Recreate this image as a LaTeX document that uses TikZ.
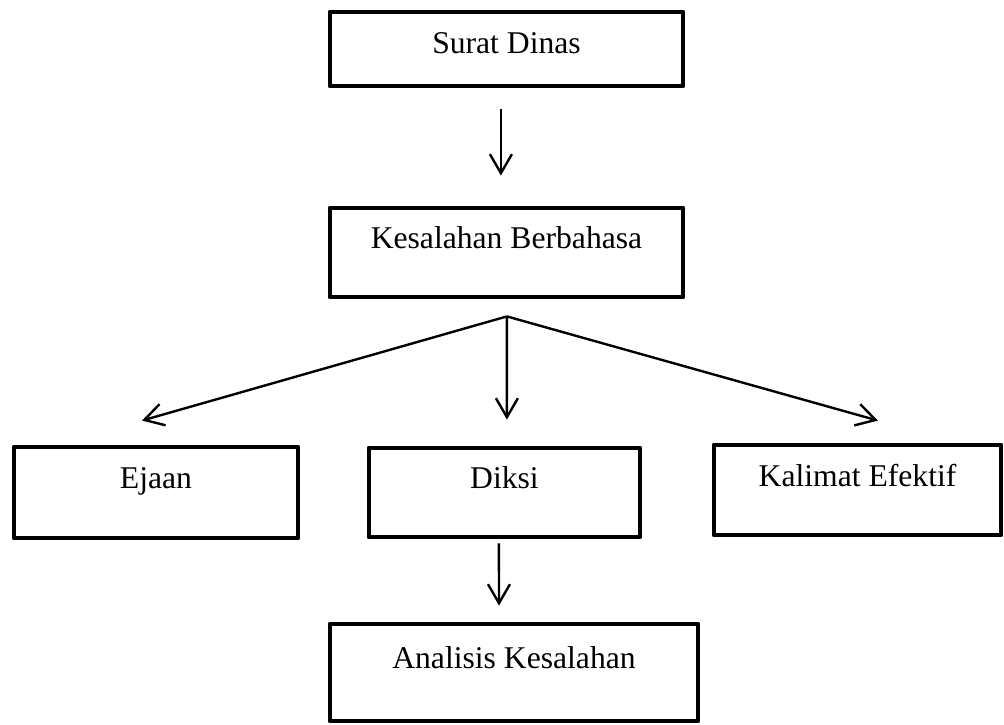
\documentclass[tikz,border=0pt]{standalone}
\usepackage{fontspec}
\setmainfont{Liberation Serif}
\usetikzlibrary{arrows.meta}
\tikzset{
  kotak/.style={draw, rectangle, line width=0.12cm, line join=round, inner sep=0pt,
    text height=0.5cm, text depth=0.7cm, font=\fontsize{22.5}{27}\selectfont},
  panah/.style={-{Straight Barb[length=0.475cm,width=0.55cm]}, line width=0.06cm},
}
\begin{document}
\begin{tikzpicture}[x=0.025cm, y=-0.025cm] %Satuan: 1 piksel
    \useasboundingbox (0,0) rectangle (1004,724);
        %Kotak
    \node[kotak, text depth=0.3cm, minimum width=8.825cm, minimum height=1.85cm] (surat) at (506.5,49) {Surat Dinas};
    \node[kotak, minimum width=8.825cm, minimum height=2.225cm] (kesalahan) at (506.5,252.5) {Kesalahan Berbahasa};
    \node[kotak, minimum width=7.1cm, minimum height=2.275cm] (ejaan) at (156,492.5) {Ejaan};
    \node[kotak, minimum width=6.775cm, minimum height=2.225cm] (diksi) at (504.5,492.5) {Diksi};
    \node[kotak, minimum width=7.175cm, minimum height=2.25cm] (kalimat) at (857.5,490) {Kalimat Efektif};
    \node[kotak, minimum width=9.2cm, minimum height=2.425cm] (analisis) at (514,672.5) {Analisis Kesalahan};
        %Panah
    \draw[panah] ([xshift=-0.14cm,yshift=-0.525cm]surat.south) -- ([xshift=-0.14cm,yshift=0.75cm]kesalahan.north);
    \coordinate (cabang) at ([xshift=0.01cm,yshift=-0.425cm]kesalahan.south); %Titik cabang
    \draw[panah] (cabang) -- ([xshift=-0.35cm,yshift=0.6cm]ejaan.north);
    \draw[panah] (cabang) -- ([xshift=0.06cm,yshift=0.65cm]diksi.north);
    \draw[panah] (cabang) -- ([xshift=0.51cm,yshift=0.55cm]kalimat.north);
    \draw[panah] ([xshift=-0.14cm,yshift=-0.1cm]diksi.south) -- ([xshift=-0.375cm,yshift=0.4cm]analisis.north);
\end{tikzpicture}
\end{document}
